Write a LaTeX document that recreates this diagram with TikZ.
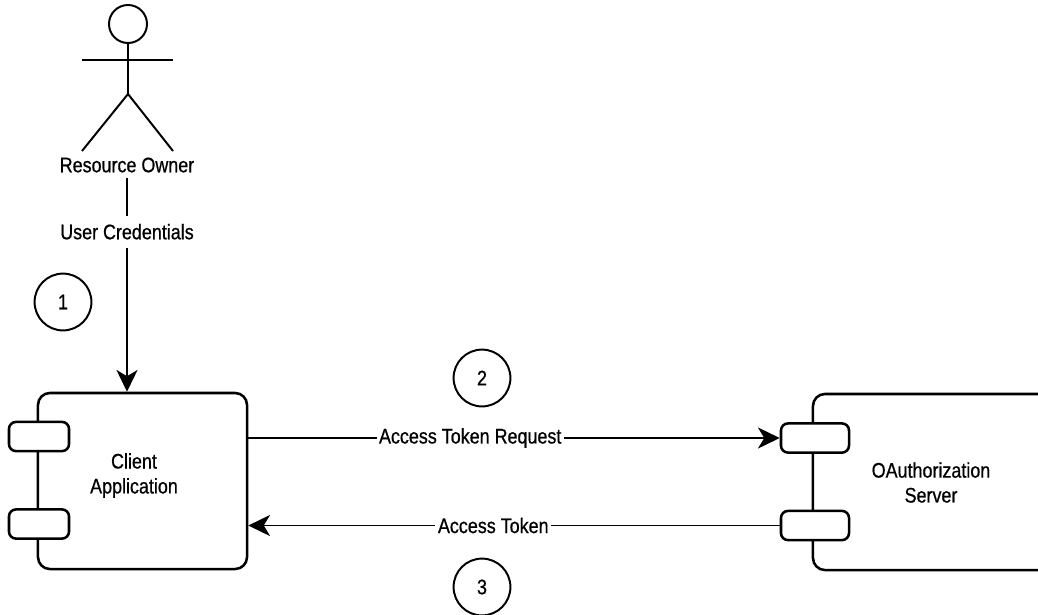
\documentclass[tikz,border=0pt]{standalone}
\usepackage{fontspec}
\setmainfont[FakeStretch=0.85,FakeBold=0.7]{Liberation Sans}
\usetikzlibrary{arrows.meta}
\tikzset{
  lbl/.style={font=\fontsize{15}{17.7}\selectfont,align=center,inner xsep=1.8pt,inner ysep=4pt},
  cut/.style={lbl,fill=white,inner ysep=6pt},
  boxnode/.style={draw,line width=1.8pt,rounded corners=8.5pt,minimum width=#1,inner sep=0pt},
  portnode/.style={draw,line width=1.8pt,fill=white,rounded corners=5pt,minimum height=0.73cm,inner sep=0pt},
  stepnum/.style={draw,circle,line width=1.4pt,minimum size=1.42cm,inner sep=0pt,font=\fontsize{15}{17.7}\selectfont},
  flow/.style={-{Stealth[length=15.5pt,width=15pt,inset=4.5pt]},line width=#1},
  flow/.default=1pt
}
\begin{document}
\begin{tikzpicture}[x=0.025cm,y=-0.025cm]
    \useasboundingbox(0,0)rectangle(1038,614);
    \clip(0,0)rectangle(1038,614);
    \node[draw,circle,line width=1.4pt,minimum size=0.95cm,inner sep=0pt](head)at(128,24){};
    \coordinate(hip)at(128,94);
    \coordinate(armL)at(82,60);
    \coordinate(armR)at(173,60);
    \coordinate(footL)at(82,151);
    \coordinate(footR)at(173,151);
    \draw[line width=1.4pt](head.south)--(hip);
    \draw[line width=1.4pt](armL)--(armR);
    \draw[line width=1.4pt](footL)--(hip)--(footR);
    \node[lbl](owner)at(127,165){Resource Owner};
    \node[boxnode=5.225cm,minimum height=4.4cm](client)at(142.5,481){};
    \node[boxnode=6.25cm,minimum height=4.4cm](server)at(938,482){};
    \node[portnode,minimum width=1.5cm](clientA)at(39,436.5){};
    \node[portnode,minimum width=1.5cm](clientB)at(39,524){};
    \node[portnode,minimum width=1.7cm](serverA)at(815,438){};
    \node[portnode,minimum width=1.7cm](serverB)at(815,525.5){};
    \node[lbl](clientName)at(134,475.5){Client\\Application};
    \node[lbl](serverName)at(931,482.5){OAuthorization\\Server};
    \draw[flow=1.4pt](owner.south)--node[cut,pos=0.25]{User Credentials}(owner.south|-client.north);
    \draw[flow](client.east|-serverA.west)--node[cut,pos=0.4176,inner ysep=0pt]{Access Token Request}(serverA.west);
    \draw[flow](serverB.west)--node[cut,pos=0.539,inner ysep=0pt]{Access Token}(client.east|-serverB.west);
    \node[stepnum](stepA)at(63,302){1};
    \node[stepnum](stepB)at(482,378){2};
    \node[stepnum](stepC)at(482,587){3};
\end{tikzpicture}
\end{document}
